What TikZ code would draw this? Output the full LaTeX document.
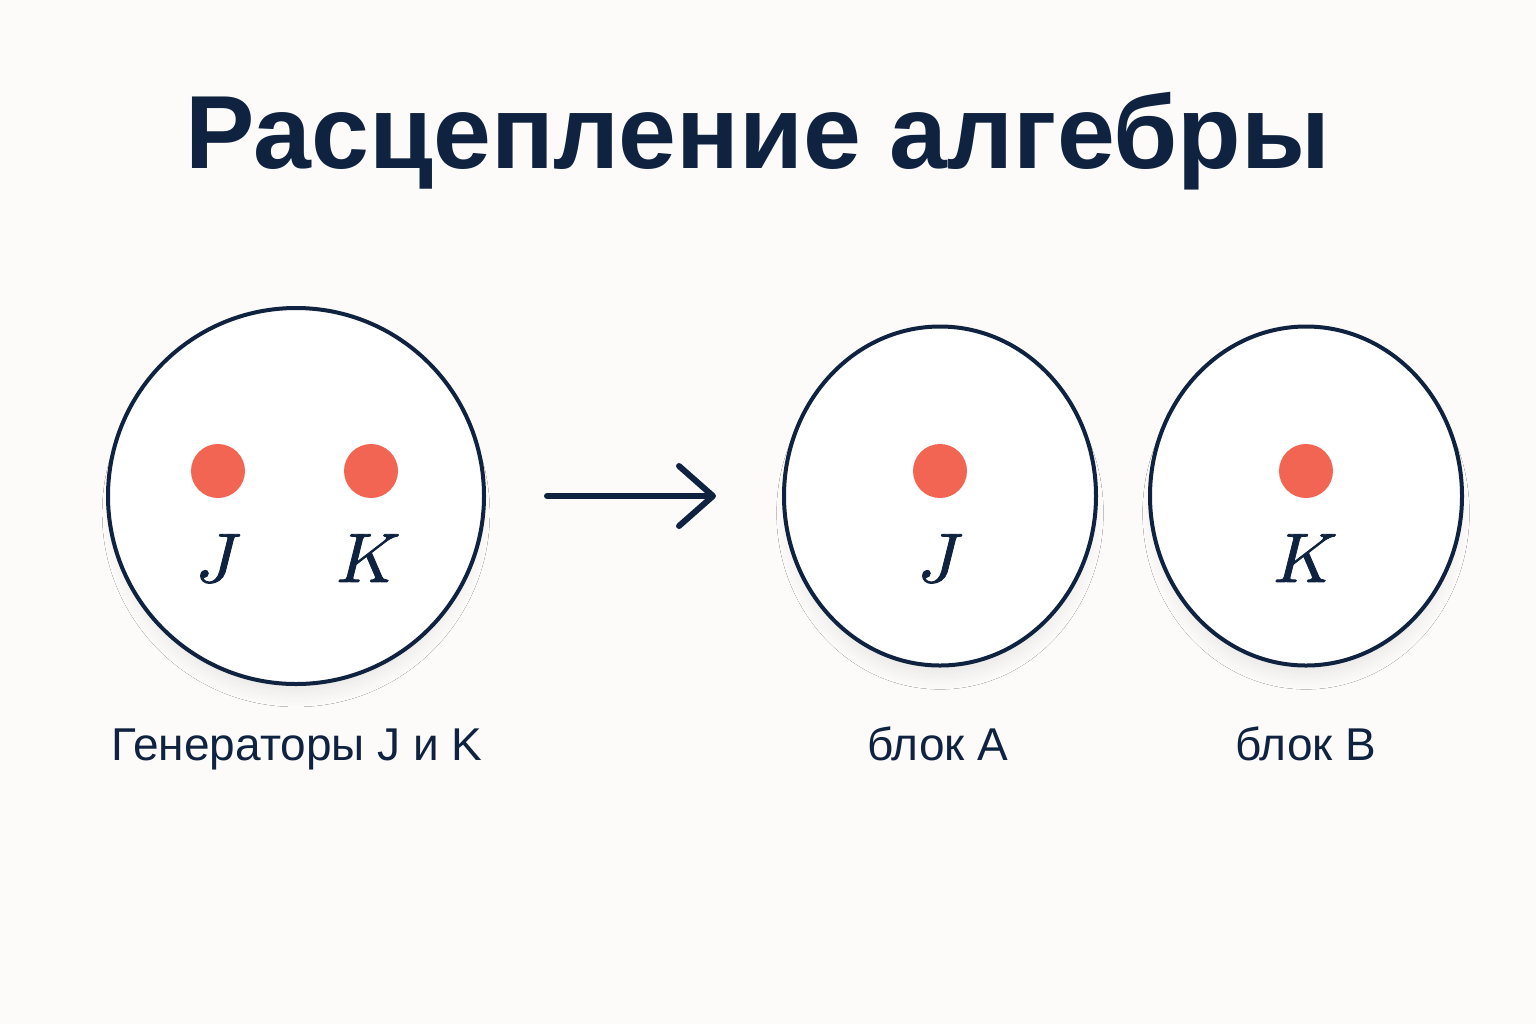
\documentclass[tikz,border=0pt]{standalone}
\usepackage{fontspec}
\usetikzlibrary{shapes.geometric,arrows.meta,shadows.blur}
\newfontfamily\labelfont{Liberation Sans}
\newfontfamily\titlefont{Liberation Sans}
\newfontfamily\symfont{latinmodern-math.otf}[FakeBold=1.2]
\definecolor{navy}{HTML}{0F2340}
\definecolor{dotred}{HTML}{F26552}
\definecolor{paper}{HTML}{FCFBF9}

\begin{document}
\begin{tikzpicture}[x=0.5pt, y=-0.5pt,
    blob/.style={draw=navy, line width=2pt, fill=white, inner sep=0pt,
      blur shadow={shadow xshift=0pt, shadow yshift=-9pt, shadow opacity=9, shadow scale=0.95, shadow blur radius=8pt, shadow blur steps=16}},
    gen/.style={circle, fill=dotred, minimum size=27pt, inner sep=0pt},
    sym/.style={anchor=base, inner sep=0pt, text=navy, font=\symfont\fontsize{35}{40}\selectfont},
    caption/.style={anchor=base, inner sep=0pt, text=navy, font=\labelfont\fontsize{23}{28}\selectfont}]
      \fill[paper] (0,0) rectangle (1536,1024);
      \useasboundingbox (0,0) rectangle (1536,1024);

      \node[anchor=base, inner sep=0pt, text=navy, font=\titlefont\bfseries\fontsize{52}{60}\selectfont] (title) at (758,168) {Расцепление алгебры};

      \node[blob, circle, minimum size=188pt] (whole) at (296,496) {};
      \node[blob, ellipse, minimum width=156pt, minimum height=169.5pt] (blockA) at (940,496) {};
      \node[blob, ellipse, minimum width=156pt, minimum height=169.5pt] (blockB) at (1306,496) {};

      \node[gen] (j1) at (218,471) {};
      \node[gen] (k1) at (371,471) {};
      \node[gen] (j2) at (940,471) {};
      \node[gen] (k2) at (1306,471) {};

      \node[sym] (lj1) at (215,582) {𝐽};
      \node[sym] (lk1) at (366,582) {𝐾};
      \node[sym] (lj2) at (937,582) {𝐽};
      \node[sym] (lk2) at (1303,582) {𝐾};

      \draw[navy, line width=3pt, line cap=round,
        -{Straight Barb[length=17pt, width=30pt, line cap=round, line join=round]},
        shorten <=30.5pt, shorten >=33pt] (whole) -- (blockA);

      \node[caption] (capwhole) at (297,760) {Генераторы J и K};
      \node[caption] (capA) at (938,760) {блок A};
      \node[caption] (capB) at (1306,760) {блок B};
    \end{tikzpicture}
\end{document}
